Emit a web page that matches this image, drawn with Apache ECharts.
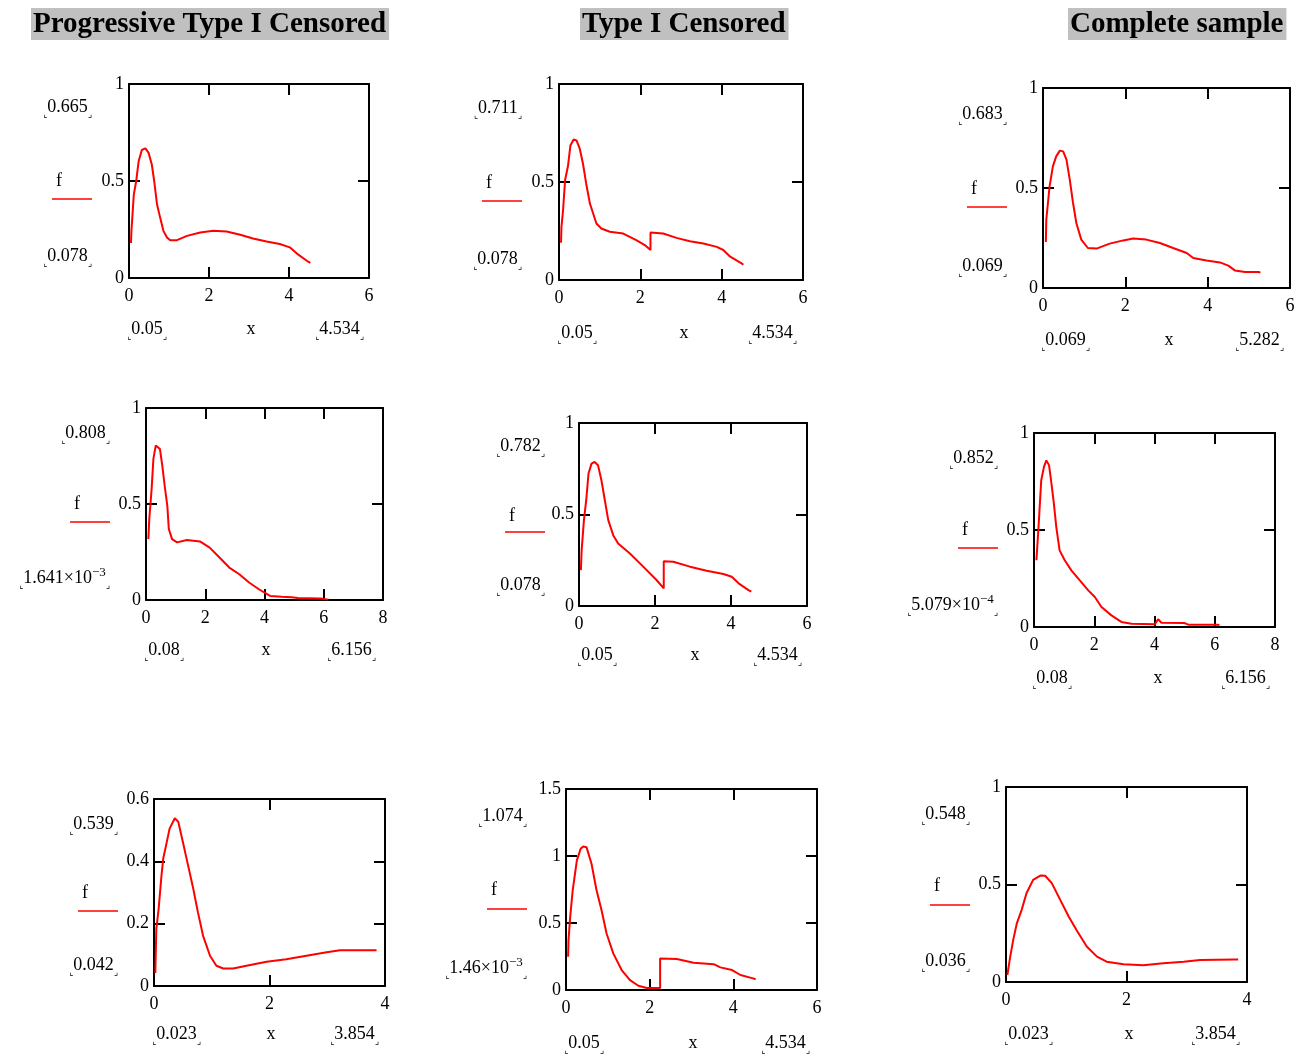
<!DOCTYPE html>
<html>
<head>
<meta charset="utf-8">
<script src="https://cdn.jsdelivr.net/npm/echarts@6/dist/echarts.min.js"></script>
<style>
html, body { margin: 0; padding: 0; background: #fff; }
#main { width: 1307px; height: 1057px; }
</style>
</head>
<body>
<div id="main"></div>
<script>
// column titles
var titles = ['Progressive Type I Censored', 'Type I Censored', 'Complete sample'];

// density curves f(x), row by row
var curveP1 = [[0.05,0.18],[0.06,0.24],[0.12,0.43],[0.18,0.5],[0.24,0.6],[0.32,0.66],[0.41,0.668],[0.49,0.645],[0.57,0.585],[0.63,0.5],[0.7,0.38],[0.78,0.31],[0.86,0.243],[0.95,0.209],[1.03,0.195],[1.2,0.195],[1.45,0.217],[1.78,0.235],[2.11,0.243],[2.44,0.24],[2.78,0.223],[3.1,0.204],[3.44,0.188],[3.77,0.175],[4.02,0.158],[4.19,0.127],[4.48,0.084],[4.534,0.078]];
var curveP2 = [[0.05,0.19],[0.06,0.27],[0.1,0.356],[0.15,0.51],[0.22,0.58],[0.28,0.686],[0.36,0.717],[0.43,0.712],[0.51,0.67],[0.59,0.593],[0.67,0.49],[0.76,0.39],[0.84,0.339],[0.92,0.288],[1.04,0.263],[1.25,0.246],[1.58,0.237],[1.9,0.203],[2.11,0.178],[2.25,0.153],[2.25,0.242],[2.56,0.237],[2.89,0.215],[3.22,0.198],[3.55,0.186],[3.88,0.169],[4.04,0.153],[4.21,0.119],[4.49,0.085],[4.534,0.078]];
var curveP3 = [[0.069,0.23],[0.08,0.342],[0.16,0.508],[0.24,0.608],[0.32,0.658],[0.41,0.687],[0.49,0.683],[0.57,0.642],[0.65,0.542],[0.73,0.425],[0.81,0.325],[0.93,0.242],[1.09,0.2],[1.3,0.197],[1.62,0.222],[1.95,0.238],[2.19,0.247],[2.51,0.242],[2.84,0.225],[3.16,0.2],[3.49,0.175],[3.65,0.15],[3.97,0.138],[4.3,0.128],[4.5,0.112],[4.66,0.088],[4.91,0.08],[5.23,0.08],[5.282,0.078]];
var curveP4 = [[0.08,0.317],[0.11,0.42],[0.19,0.578],[0.25,0.735],[0.33,0.805],[0.39,0.814],[0.47,0.787],[0.55,0.7],[0.63,0.596],[0.72,0.49],[0.77,0.37],[0.88,0.317],[1.05,0.3],[1.38,0.312],[1.82,0.305],[2.15,0.273],[2.48,0.221],[2.81,0.169],[3.15,0.134],[3.48,0.091],[3.81,0.056],[4.19,0.021],[4.58,0.017],[4.91,0.014],[5.13,0.01],[5.9,0.008],[6.156,0.002]];
var curveP5 = [[0.05,0.196],[0.07,0.305],[0.13,0.469],[0.19,0.578],[0.25,0.724],[0.33,0.778],[0.41,0.787],[0.5,0.769],[0.59,0.687],[0.68,0.578],[0.77,0.469],[0.9,0.387],[1.03,0.342],[1.34,0.287],[1.69,0.215],[2.04,0.142],[2.23,0.096],[2.23,0.245],[2.48,0.242],[2.92,0.215],[3.36,0.193],[3.8,0.175],[4.02,0.16],[4.2,0.124],[4.46,0.087],[4.534,0.078]];
var curveP6 = [[0.08,0.344],[0.15,0.515],[0.24,0.756],[0.33,0.825],[0.41,0.859],[0.5,0.833],[0.58,0.739],[0.66,0.636],[0.74,0.515],[0.85,0.395],[1.02,0.344],[1.24,0.292],[1.52,0.24],[1.8,0.189],[2.02,0.155],[2.24,0.103],[2.57,0.06],[2.9,0.026],[3.24,0.017],[4.01,0.014],[4.12,0.04],[4.23,0.022],[5.0,0.02],[5.12,0.012],[6.06,0.012],[6.156,0.01]];
var curveP7 = [[0.023,0.042],[0.04,0.183],[0.08,0.247],[0.13,0.355],[0.16,0.409],[0.21,0.452],[0.27,0.505],[0.36,0.538],[0.42,0.527],[0.5,0.462],[0.59,0.387],[0.68,0.312],[0.76,0.237],[0.85,0.161],[0.97,0.097],[1.08,0.065],[1.2,0.056],[1.37,0.056],[1.6,0.065],[1.95,0.078],[2.29,0.086],[2.64,0.097],[2.99,0.108],[3.22,0.115],[3.8,0.115],[3.854,0.115]];
var curveP8 = [[0.05,0.248],[0.06,0.372],[0.1,0.545],[0.16,0.744],[0.26,0.967],[0.35,1.054],[0.41,1.071],[0.49,1.066],[0.61,0.942],[0.73,0.744],[0.85,0.595],[0.97,0.422],[1.13,0.273],[1.33,0.149],[1.53,0.074],[1.73,0.032],[1.93,0.015],[2.25,0.015],[2.25,0.236],[2.65,0.231],[3.05,0.203],[3.53,0.193],[3.69,0.169],[3.97,0.149],[4.17,0.112],[4.47,0.087],[4.534,0.08]];
var curveP9 = [[0.023,0.036],[0.07,0.13],[0.12,0.216],[0.18,0.301],[0.26,0.37],[0.34,0.455],[0.45,0.524],[0.57,0.546],[0.65,0.545],[0.76,0.507],[0.9,0.421],[1.04,0.336],[1.17,0.267],[1.34,0.182],[1.51,0.13],[1.67,0.104],[1.95,0.091],[2.28,0.086],[2.61,0.096],[2.95,0.104],[3.22,0.113],[3.8,0.116],[3.854,0.116]];
var curves = [curveP1, curveP2, curveP3, curveP4, curveP5, curveP6, curveP7, curveP8, curveP9];

// axis ranges
var xMaxes = [6, 6, 6, 8, 6, 8, 4, 6, 4];
var xSteps = [2, 2, 2, 2, 2, 2, 2, 2, 2];
var yMaxes = [1, 1, 1, 1, 1, 1, 0.6, 1.5, 1];
var ySteps = [0.5, 0.5, 0.5, 0.5, 0.5, 0.5, 0.2, 0.5, 0.5];

// Mathcad range labels
var yTopLabels = ['0.665', '0.711', '0.683', '0.808', '0.782', '0.852', '0.539', '1.074', '0.548'];
var yBotLabels = ['0.078', '0.078', '0.069', '1.641×10', '0.078', '5.079×10', '0.042', '1.46×10', '0.036'];
var yBotExps = ['', '', '', '−3', '', '−4', '', '−3', ''];
var xLowLabels = ['0.05', '0.05', '0.069', '0.08', '0.05', '0.08', '0.023', '0.05', '0.023'];
var xHighLabels = ['4.534', '4.534', '5.282', '6.156', '4.534', '6.156', '3.854', '4.534', '3.854'];

// layout: plot box [left, top, width, height]
var boxes = [
    [129, 84, 240, 194], [559, 84, 244, 196], [1043, 88, 247, 200],
    [146, 408, 237, 192], [579, 423, 228, 183], [1034, 433, 241, 194],
    [154, 799, 231, 187], [566, 789, 251, 201], [1006, 787, 241, 195]
];
// layout of labels: [rightX, yTopY, fY, lineY, yBotY, xLabY, xCenterX, xRightX]
var labPos = [
    [92, 107, 181, 199, 256, 329, 251, 364],
    [522, 108, 183, 201, 259, 333, 684, 797],
    [1007, 114, 189, 207, 266, 340, 1169, 1284],
    [110, 433, 504, 522, 578, 650, 266, 376],
    [545, 446, 516, 532, 585, 655, 695, 802],
    [998, 458, 530, 548, 605, 678, 1158, 1270],
    [118, 824, 893, 911, 965, 1034, 271, 379],
    [527, 816, 890, 909, 968, 1043, 693, 810],
    [970, 814, 886, 905, 961, 1034, 1129, 1240]
];
var titlePos = [31, 580, 1068];

var FONT = 'Liberation Serif, Times New Roman, serif';
var markRich = {
    m: { fontSize: 9, fontFamily: 'DejaVu Sans', verticalAlign: 'bottom', fill: '#000', lineHeight: 24 },
    n: { fontSize: 18, fontFamily: FONT, fill: '#000', lineHeight: 24 },
    s: { fontSize: 13, fontFamily: FONT, verticalAlign: 'top', fill: '#000', lineHeight: 13 }
};

var grid = [], xAxis = [], yAxis = [], series = [], graphic = [], title = [];

titles.forEach(function (t, i) {
    title.push({
        text: t, left: titlePos[i], top: 8,
        backgroundColor: '#c0c0c0', padding: [2, 3, 1, 2],
        textStyle: { fontFamily: FONT, fontWeight: 'bold', fontSize: 29, color: '#000', lineHeight: 29 }
    });
});

function txt(x, y, text, align) {
    return {
        type: 'text', x: x, y: y, silent: true,
        style: {
            text: text, fill: '#000', font: '18px ' + FONT,
            align: align, verticalAlign: 'middle',
            textAlign: align, textVerticalAlign: 'middle',
            rich: markRich
        }
    };
}

curves.forEach(function (data, i) {
    var b = boxes[i];
    grid.push({ left: b[0], top: b[1], width: b[2], height: b[3], containLabel: false });
    var line = { show: true, onZero: false, lineStyle: { color: '#000', width: 2 } };
    var tick = { show: true, inside: true, length: 11, lineStyle: { color: '#000', width: 2 } };
    var lab = { color: '#000', fontFamily: FONT, fontSize: 18 };
    xAxis.push({
        type: 'value', gridIndex: i, position: 'bottom', min: 0, max: xMaxes[i], interval: xSteps[i],
        axisLine: line, axisTick: tick, splitLine: { show: false },
        axisLabel: Object.assign({ margin: 9 }, lab)
    });
    xAxis.push({
        type: 'value', gridIndex: i, position: 'top', min: 0, max: xMaxes[i], interval: xSteps[i],
        axisLine: line, axisTick: tick, splitLine: { show: false }, axisLabel: { show: false }
    });
    yAxis.push({
        type: 'value', gridIndex: i, position: 'left', min: 0, max: yMaxes[i], interval: ySteps[i],
        axisLine: line, axisTick: tick, splitLine: { show: false },
        axisLabel: Object.assign({ margin: 5 }, lab)
    });
    yAxis.push({
        type: 'value', gridIndex: i, position: 'right', min: 0, max: yMaxes[i], interval: ySteps[i],
        axisLine: line, axisTick: tick, splitLine: { show: false }, axisLabel: { show: false }
    });
    series.push({
        type: 'line', xAxisIndex: 2 * i, yAxisIndex: 2 * i, data: data,
        showSymbol: false, smooth: false, animation: false,
        lineStyle: { color: '#ff0000', width: 2 }
    });

    var p = labPos[i];
    graphic.push(txt(p[0], p[1], '{m|⌞}{n|' + yTopLabels[i] + '}{m|⌟}', 'right'));
    graphic.push(txt(p[0] - 36, p[2], 'f', 'left'));
    graphic.push({
        type: 'line', silent: true,
        shape: { x1: p[0] - 40, y1: p[3], x2: p[0], y2: p[3] },
        style: { stroke: '#ff0000', lineWidth: 1.5 }
    });
    var bot = '{n|' + yBotLabels[i] + '}' + (yBotExps[i] ? '{s|' + yBotExps[i] + '}' : '');
    graphic.push(txt(p[0], p[4], '{m|⌞}' + bot + '{m|⌟}', 'right'));
    graphic.push(txt(b[0] - 2, p[5], '{m|⌞}{n|' + xLowLabels[i] + '}{m|⌟}', 'left'));
    graphic.push(txt(p[6], p[5], 'x', 'center'));
    graphic.push(txt(p[7], p[5], '{m|⌞}{n|' + xHighLabels[i] + '}{m|⌟}', 'right'));
});

var chart = echarts.init(document.getElementById('main'));
chart.setOption({
    animation: false,
    backgroundColor: '#fff',
    title: title,
    grid: grid,
    xAxis: xAxis,
    yAxis: yAxis,
    series: series,
    graphic: graphic
});
</script>
</body>
</html>
